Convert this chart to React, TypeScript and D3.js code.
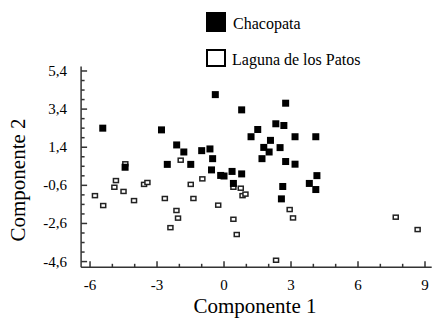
import React from "react";
import * as d3 from "d3";

// Chacopata (filled squares): [Componente 1, Componente 2]
const chacopata: [number, number][] = [
  [-5.43, 2.4], [-2.8, 2.31], [-0.39, 4.16], [0.79, 3.36], [1.51, 2.33],
  [1.21, 1.95], [-2.12, 1.52], [-1.8, 1.15], [-1.0, 1.22], [-0.63, 1.31],
  [-0.51, 0.8], [-2.54, 0.5], [-1.49, 0.5], [-4.43, 0.35], [-0.56, 0.21],
  [-0.15, -0.08], [0.0, -0.11], [0.36, 0.13], [0.79, 0.0], [0.42, -0.5],
  [2.76, 3.71], [2.32, 2.63], [2.68, 2.54], [3.18, 1.95], [4.11, 1.95],
  [2.08, 1.76], [1.78, 1.39], [2.02, 1.15], [2.51, 1.38], [1.7, 0.8],
  [2.76, 0.65], [3.18, 0.51], [4.16, -0.09], [2.63, -0.66], [3.82, -0.5],
  [4.11, -0.82], [2.57, -1.31],
];

// Laguna de los Patos (open squares)
const lagunaPatos: [number, number][] = [
  [-4.42, 0.53], [-1.94, 0.72], [-0.97, -0.26], [0.42, -0.7], [0.75, -0.75],
  [0.83, -1.14], [0.96, -1.06], [-5.78, -1.14], [-5.41, -1.66], [-4.91, -0.7],
  [-4.84, -0.35], [-4.5, -0.92], [-4.03, -1.4], [-3.58, -0.55], [-3.43, -0.45],
  [-2.65, -1.29], [-2.13, -1.92], [-2.06, -2.32], [-2.4, -2.82], [-1.49, -0.55],
  [-1.37, -1.29], [-0.26, -1.64], [0.42, -2.38], [0.57, -3.18], [2.94, -1.87],
  [3.09, -2.31], [2.33, -4.53], [7.69, -2.27], [8.67, -2.92],
];

const xTicks = [-6, -3, 0, 3, 6, 9];
const xTickLabels = ["-6", "-3", "0", "3", "6", "9"];
const yTicks = [-4.6, -2.6, -0.6, 1.4, 3.4, 5.4];
const yTickLabels = ["-4,6", "-2,6", "-0,6", "1,4", "3,4", "5,4"];

const width = 434;
const height = 318;
const font = "Liberation Serif, DejaVu Serif, serif";
const axisColor = "#333";

const App = () => {
  const x = d3.scaleLinear().domain([-6.4, 9.3]).range([81.1, 431.7]);
  const y = d3.scaleLinear().domain([-4.9, 5.63]).range([267.3, 66.6]);

  const xMinor = d3.range(-6, 9.01, 1);
  const yMinor = d3.range(-4.6, 5.41, 0.5);

  const [x0, x1] = x.range();
  const [y0, y1] = y.range();

  return (
    <svg
      width={width}
      height={height}
      style={{ position: "absolute", left: 0, top: 0, background: "#fff", fontFamily: font }}
    >
      {/* legend */}
      <rect x={206} y={12} width={20} height={20} fill="#000" />
      <text x={233} y={29} fontSize={16}>Chacopata</text>
      <rect x={207} y={50} width={18} height={16} fill="#fff" stroke="#000" strokeWidth={2} />
      <text x={232} y={65} fontSize={16}>Laguna de los Patos</text>

      {/* axes */}
      <g stroke={axisColor} strokeWidth={1.5}>
        <line x1={x0} x2={x0} y1={y0} y2={y1} />
        <line x1={x0} x2={x1} y1={y0} y2={y0} />
        {xMinor.map((v) => (
          <line key={"xm" + v} x1={x(v)} x2={x(v)} y1={y0} y2={y0 - (xTicks.includes(Math.round(v)) ? 6 : 3.5)} />
        ))}
        {yMinor.map((v) => {
          const major = yTicks.some((t) => Math.abs(t - v) < 1e-6);
          return <line key={"ym" + v} x1={x0} x2={x0 + (major ? 6 : 3.5)} y1={y(v)} y2={y(v)} />;
        })}
      </g>
      {xTicks.map((v, i) => (
        <text key={"xl" + v} x={x(v)} y={290} fontSize={15} textAnchor="middle">{xTickLabels[i]}</text>
      ))}
      {yTicks.map((v, i) => (
        <text key={"yl" + v} x={67} y={y(v) + 5} fontSize={15} textAnchor="end">{yTickLabels[i]}</text>
      ))}
      <text x={255} y={313} fontSize={21} textAnchor="middle">Componente 1</text>
      <text transform="translate(25,180) rotate(-90)" fontSize={21} textAnchor="middle">Componente 2</text>

      {/* points */}
      {lagunaPatos.map((d, i) => (
        <rect key={"l" + i} x={x(d[0]) - 2.5} y={y(d[1]) - 2} width={5} height={4} fill="#fff" stroke="#222" strokeWidth={1.5} />
      ))}
      {chacopata.map((d, i) => (
        <rect key={"c" + i} x={x(d[0]) - 3.5} y={y(d[1]) - 3.5} width={7} height={7} fill="#000" />
      ))}
    </svg>
  );
};

export default App;
